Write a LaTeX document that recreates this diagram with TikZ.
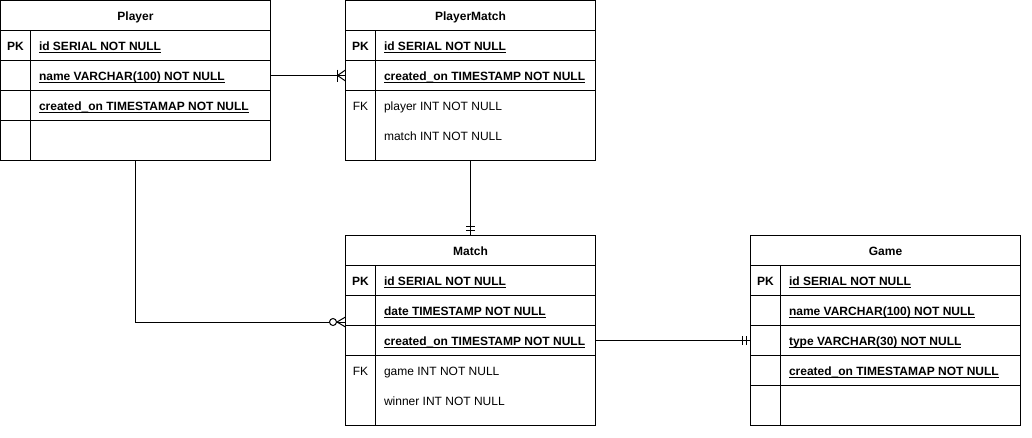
\documentclass[tikz,border=0pt]{standalone}
\usepackage{fontspec}
\setmainfont{Liberation Sans}
\newcommand\myul[1]{\setbox0\hbox{#1}\rlap{\rule[-2.6pt]{\wd0}{0.9pt}}\box0}
\begin{document}
\begin{tikzpicture}[x=1pt,y=-1pt,line width=1pt,
  tbl/.style={draw,rectangle,inner sep=0pt,outer sep=0pt,anchor=north west},
  ttl/.style={font=\bfseries\fontsize{12}{14}\selectfont,anchor=base,inner sep=0pt},
  kf/.style={font=\bfseries\fontsize{12}{14}\selectfont,anchor=base,inner sep=0pt},
  kn/.style={font=\fontsize{12}{14}\selectfont,anchor=base,inner sep=0pt},
  bf/.style={font=\bfseries\fontsize{12}{14}\selectfont,anchor=base west,inner sep=0pt},
  nf/.style={font=\fontsize{12}{14}\selectfont,anchor=base west,inner sep=0pt},
  conn/.style={draw,line width=1pt}
]
\useasboundingbox (0,0) rectangle (1032,437);

% ---------- Player ----------
\node[tbl,minimum width=270pt,minimum height=160pt] (player) at (0.5,0.5) {};
\draw (0.5,30.5)--(270.5,30.5) (0.5,60.5)--(270.5,60.5) (0.5,90.5)--(270.5,90.5) (0.5,120.5)--(270.5,120.5) (30.5,30.5)--(30.5,160.5);
\node[ttl] (p-t) at (135.5,20) {Player};
\node[kf] (p-pk) at (15.5,50) {PK};
\node[bf] (p-id) at (38.5,50) {\myul{id SERIAL NOT NULL}};
\node[bf] (p-name) at (38.5,80) {\myul{name VARCHAR(100) NOT NULL}};
\node[bf] (p-cr) at (38.5,110) {\myul{created\_on TIMESTAMAP NOT NULL}};

% ---------- PlayerMatch ----------
\node[tbl,minimum width=250pt,minimum height=160pt] (pm) at (345.5,0.5) {};
\draw (345.5,30.5)--(595.5,30.5) (345.5,60.5)--(595.5,60.5) (345.5,90.5)--(595.5,90.5) (375.5,30.5)--(375.5,160.5);
\node[ttl] (pm-t) at (470.5,20) {PlayerMatch};
\node[kf] (pm-pk) at (360.5,50) {PK};
\node[bf] (pm-id) at (383.5,50) {\myul{id SERIAL NOT NULL}};
\node[bf] (pm-cr) at (383.5,80) {\myul{created\_on TIMESTAMP NOT NULL}};
\node[kn] (pm-fk) at (360.5,110) {FK};
\node[nf] (pm-pl) at (383.5,110) {player INT NOT NULL};
\node[nf] (pm-ma) at (383.5,140) {match INT NOT NULL};

% ---------- Match ----------
\node[tbl,minimum width=250pt,minimum height=190pt] (match) at (345.5,235.5) {};
\draw (345.5,265.5)--(595.5,265.5) (345.5,295.5)--(595.5,295.5) (345.5,325.5)--(595.5,325.5) (345.5,355.5)--(595.5,355.5) (375.5,265.5)--(375.5,425.5);
\node[ttl] (m-t) at (470.5,255) {Match};
\node[kf] (m-pk) at (360.5,285) {PK};
\node[bf] (m-id) at (383.5,285) {\myul{id SERIAL NOT NULL}};
\node[bf] (m-date) at (383.5,315) {\myul{date TIMESTAMP NOT NULL}};
\node[bf] (m-cr) at (383.5,345) {\myul{created\_on TIMESTAMP NOT NULL}};
\node[kn] (m-fk) at (360.5,375) {FK};
\node[nf] (m-game) at (383.5,375) {game INT NOT NULL};
\node[nf] (m-win) at (383.5,405) {winner INT NOT NULL};

% ---------- Game ----------
\node[tbl,minimum width=270pt,minimum height=190pt] (game) at (750.5,235.5) {};
\draw (750.5,265.5)--(1020.5,265.5) (750.5,295.5)--(1020.5,295.5) (750.5,325.5)--(1020.5,325.5) (750.5,355.5)--(1020.5,355.5) (750.5,385.5)--(1020.5,385.5) (780.5,265.5)--(780.5,425.5);
\node[ttl] (g-t) at (885.5,255) {Game};
\node[kf] (g-pk) at (765.5,285) {PK};
\node[bf] (g-id) at (788.5,285) {\myul{id SERIAL NOT NULL}};
\node[bf] (g-name) at (788.5,315) {\myul{name VARCHAR(100) NOT NULL}};
\node[bf] (g-type) at (788.5,345) {\myul{type VARCHAR(30) NOT NULL}};
\node[bf] (g-cr) at (788.5,375) {\myul{created\_on TIMESTAMAP NOT NULL}};

% ---------- Connectors ----------
% Player -> PlayerMatch (one to many)
\coordinate (c1) at ([yshift=-75pt]pm.north west);
\draw[conn] ([yshift=-75pt]player.north east) -- (c1);
\draw[conn] ([xshift=-8pt]c1) ++(0,-6) -- ++(0,12);
\draw[conn] ([xshift=-8pt]c1) -- ++(8,-5.5) ([xshift=-8pt]c1) -- ++(8,5.5);

% Player -> Match (zero to many)
\coordinate (c2) at ([yshift=-86.5pt]match.north west);
\draw[conn] (player.south) |- (c2);
\draw[conn,fill=white] ([xshift=-12.5pt]c2) circle (3.5pt);
\draw[conn] ([xshift=-8.5pt]c2) -- ++(8.5,-5) ([xshift=-8.5pt]c2) -- ++(8.5,5);

% PlayerMatch -> Match (mandatory one)
\draw[conn] (pm.south) -- (match.north);
\draw[conn] ([yshift=9pt]match.north) ++(-4.5,0) -- ++(9,0);
\draw[conn] ([yshift=5pt]match.north) ++(-4.5,0) -- ++(9,0);

% Match -> Game (mandatory one)
\coordinate (c3) at ([yshift=-105pt]game.north west);
\draw[conn] ([yshift=-105pt]match.north east) -- (c3);
\draw[conn] ([xshift=-8pt]c3) ++(0,-4.5) -- ++(0,9);
\draw[conn] ([xshift=-4.5pt]c3) ++(0,-4.5) -- ++(0,9);
\end{tikzpicture}
\end{document}
